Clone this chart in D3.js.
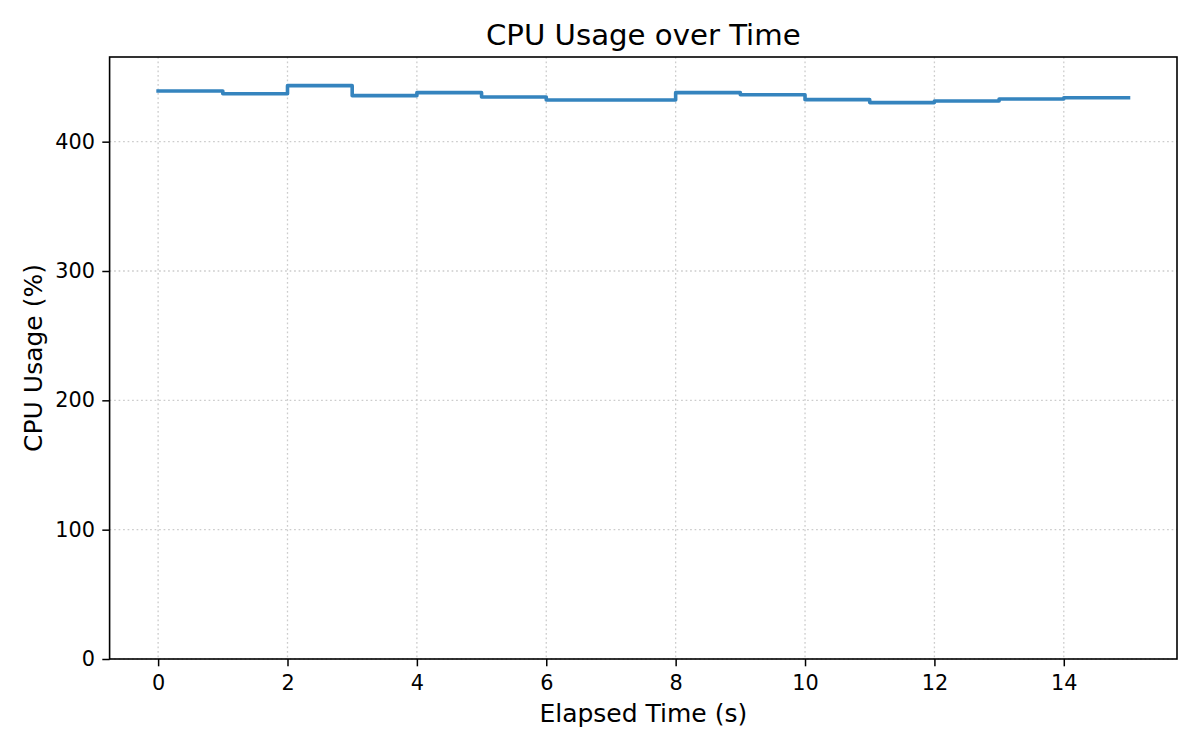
<!DOCTYPE html>
<html>
<head>
<meta charset="utf-8">
<script src="https://cdn.jsdelivr.net/npm/d3@7"></script>
<style>
  html, body { margin: 0; padding: 0; background: #fff; }
  svg { display: block; font-family: "DejaVu Sans", sans-serif; }
</style>
</head>
<body>
<svg id="chart" width="1200" height="750"></svg>
<script>
const titleText = "CPU Usage over Time";
const xLabel = "Elapsed Time (s)";
const yLabel = "CPU Usage (%)";
const times = [0, 1, 2, 3, 4, 5, 6, 7, 8, 9, 10, 11, 12, 13, 14, 15];
const cpuUsage = [439.2, 437.1, 443.3, 435.6, 437.9, 434.5, 432.2, 432.2, 437.9, 436.3, 432.5, 430.2, 431.4, 433.0, 434.0, 434.0];
const xTicks = [0, 2, 4, 6, 8, 10, 12, 14];
const yTicks = [0, 100, 200, 300, 400];

(function () {
const svg = d3.select("#chart");
const W = 1200, H = 750;
const mLeft = 109.6, mRight = 1177, mTop = 57, mBottom = 659;

const xMin = d3.min(times), xMax = d3.max(times);
const xPad = (xMax - xMin) * 0.05;
const x = d3.scaleLinear().domain([xMin - xPad, xMax + xPad]).range([mLeft, mRight]);
const y = d3.scaleLinear().domain([0, d3.max(cpuUsage) * 1.05]).range([mBottom, mTop]);

svg.append("rect").attr("x", 0).attr("y", 0).attr("width", W).attr("height", H).attr("fill", "#fff");

// grid
const grid = svg.append("g").attr("class", "grid");
grid.selectAll("line.vx").data(xTicks).enter().append("line")
  .attr("x1", d => x(d)).attr("x2", d => x(d))
  .attr("y1", mTop).attr("y2", mBottom)
  .attr("stroke", "#cccccc").attr("stroke-width", 1.3)
  .attr("stroke-dasharray", "1.7,2.8");
grid.selectAll("line.hy").data(yTicks).enter().append("line")
  .attr("x1", mLeft).attr("x2", mRight)
  .attr("y1", d => y(d)).attr("y2", d => y(d))
  .attr("stroke", "#cccccc").attr("stroke-width", 1.3)
  .attr("stroke-dasharray", "1.7,2.8");

// step line
const line = d3.line()
  .x((d, i) => x(times[i]))
  .y(d => y(d))
  .curve(d3.curveStepAfter);
svg.append("path")
  .datum(cpuUsage)
  .attr("d", line)
  .attr("fill", "none")
  .attr("stroke", "#3584be")
  .attr("stroke-width", 3.6)
  .attr("stroke-linecap", "square")
  .attr("stroke-linejoin", "round");

// axes
const xAxis = d3.axisBottom(x).tickValues(xTicks).tickSize(7.3).tickPadding(7.3).tickFormat(d3.format("d"));
const yAxis = d3.axisLeft(y).tickValues(yTicks).tickSize(7.3).tickPadding(7.3).tickFormat(d3.format("d"));

const gx = svg.append("g").attr("transform", `translate(0,${mBottom})`).call(xAxis);
const gy = svg.append("g").attr("transform", `translate(${mLeft},0)`).call(yAxis);
[gx, gy].forEach(g => {
  g.select(".domain").remove();
  g.selectAll(".tick line").attr("stroke", "#000").attr("stroke-width", 1.5);
  g.selectAll(".tick text").attr("fill", "#000").attr("font-size", "20.8px").attr("font-family", "DejaVu Sans");
});
gx.selectAll(".tick text").attr("dy", "0.78em");

// frame
svg.append("rect")
  .attr("x", mLeft).attr("y", mTop)
  .attr("width", mRight - mLeft).attr("height", mBottom - mTop)
  .attr("fill", "none").attr("stroke", "#000").attr("stroke-width", 1.6);

// title and labels
svg.append("text")
  .attr("x", (mLeft + mRight) / 2).attr("y", 44.5)
  .attr("text-anchor", "middle")
  .attr("font-size", "29.2px")
  .attr("fill", "#000")
  .text(titleText);

svg.append("text")
  .attr("x", (mLeft + mRight) / 2).attr("y", 722)
  .attr("text-anchor", "middle")
  .attr("font-size", "25px")
  .attr("fill", "#000")
  .text(xLabel);

svg.append("text")
  .attr("transform", `translate(42,${(mTop + mBottom) / 2}) rotate(-90)`)
  .attr("text-anchor", "middle")
  .attr("font-size", "25px")
  .attr("fill", "#000")
  .text(yLabel);
})();
</script>
</body>
</html>
